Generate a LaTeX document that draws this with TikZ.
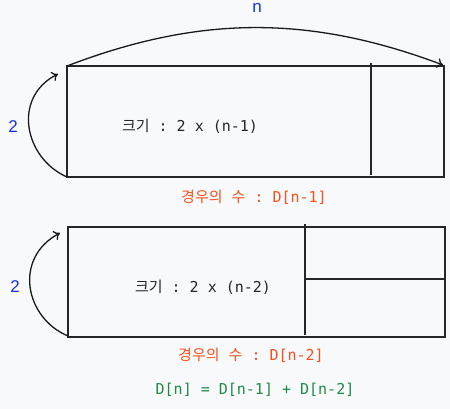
\documentclass[tikz,border=0pt]{standalone}
\usepackage{fontspec}
\setmonofont{DejaVu Sans Mono}
\newfontfamily\cjk{Noto Sans CJK KR}
\newfontfamily\dimfont{Liberation Sans}
\usepackage{tikz}
\usetikzlibrary{arrows.meta}
\definecolor{pagegray}{HTML}{F8F9FA}
\definecolor{lenblue}{HTML}{1A2EE8}
\definecolor{countred}{HTML}{F4511E}
\definecolor{sumgreen}{HTML}{1E8A47}
\tikzset{
	monotext/.style={font=\ttfamily\fontsize{15}{18}\selectfont, text=black!85},
	dimtext/.style={font=\dimfont\fontsize{17}{18}\selectfont, text=lenblue},
	tile/.style={line width=1.6pt, color=black!85},
	sizearc/.style={line width=1.3pt, -{To[length=6pt, width=10pt]}, color=black!90}
}
\begin{document}
\begin{tikzpicture}[x=1pt, y=-1pt]
	\useasboundingbox (0,0) rectangle (450,409);
	\fill [color=pagegray] (0,0) rectangle (450,409);

	\coordinate (oneNW) at (67,66);
	\coordinate (oneSE) at (444,177);
	\coordinate (oneSW) at (67,177);
	\coordinate (oneTip) at (443,65);
	\coordinate (oneUp) at (58,74);
	\draw [tile] (oneNW) rectangle (oneSE);
	\draw [tile] (371,63) -- (371,175);
	\draw [sizearc] (oneNW) .. controls (200,15) and (310,15) .. (oneTip);
	\draw [sizearc] (oneSW) .. controls (24,158) and (12,97) .. (oneUp);
	\node (n) at (257,8) [dimtext] {n};
	\node (twoA) at (13,127) [dimtext] {2};
	\node (sizeA) at (190,126) [monotext] {{\cjk 크기} : 2 x (n-1)};
	\node (countA) at (254,197) [monotext, text=countred] {{\cjk 경우의} {\cjk 수} : D[n-1]};

	\coordinate (twoNW) at (68,227);
	\coordinate (twoSE) at (445,337);
	\coordinate (twoSW) at (68,336);
	\coordinate (twoUp) at (60,233);
	\draw [tile] (twoNW) rectangle (twoSE);
	\draw [tile] (305,224) -- (305,335);
	\draw [tile] (304,279) -- (446,279);
	\draw [sizearc] (twoSW) .. controls (25,318) and (13,258) .. (twoUp);
	\node (twoB) at (15,287) [dimtext] {2};
	\node (sizeB) at (203,287) [monotext] {{\cjk 크기} : 2 x (n-2)};
	\node (countB) at (251,355) [monotext, text=countred] {{\cjk 경우의} {\cjk 수} : D[n-2]};

	\node (sum) at (255,390) [monotext, text=sumgreen] {D[n] = D[n-1] + D[n-2]};
\end{tikzpicture}
\end{document}
